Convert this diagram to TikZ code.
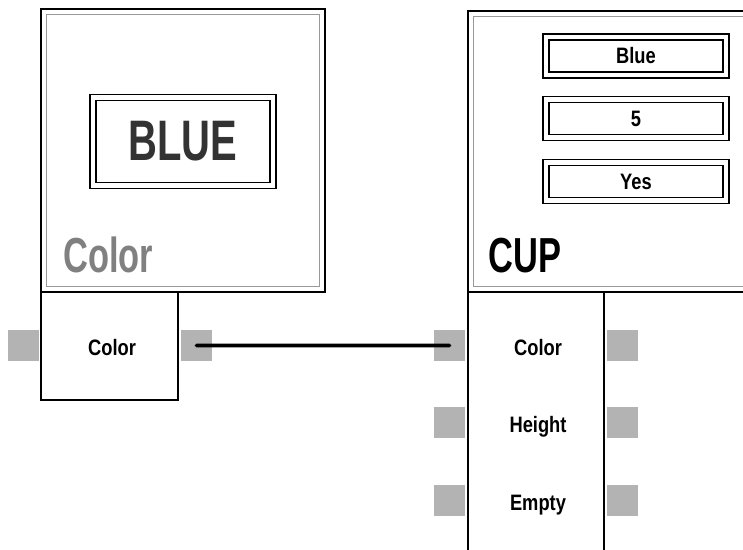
\documentclass[tikz,border=0pt]{standalone}
\usepackage{fontspec}
\setmainfont{Liberation Sans}[FakeStretch=0.82]
\newfontfamily\narrowfont{Liberation Sans}[FakeStretch=0.70]
\usetikzlibrary{positioning,calc}
\definecolor{framegray}{HTML}{999999}
\definecolor{pluggray}{HTML}{B3B3B3}
\definecolor{labgray}{HTML}{808080}
\definecolor{valgray}{HTML}{333333}

\begin{document}
\begin{tikzpicture}[
    every node/.style={font=\bfseries\fontsize{12.7}{15}\selectfont},
    comp/.style={draw, line width=0.8pt, inner sep=0pt},
    frame/.style={draw=framegray, line width=0.8pt},
    valbox/.style={draw, double, double distance=2.6pt, line width=0.7pt, minimum width=3.6cm, minimum height=0.76cm, inner sep=0pt},
    plug/.style={fill=pluggray, minimum size=0.62cm, inner sep=0pt},
    title/.style={anchor=base west, inner sep=0pt, font=\narrowfont\bfseries\fontsize{28}{30}\selectfont},
    wire/.style={line width=2.2pt, line cap=round}
  ]
  \clip (0,0) rectangle (14.86,11);
  % colour picker
  \node[comp, minimum width=5.68cm, minimum height=5.66cm] (picker) at (3.66, 7.99) {};
  \draw[frame] ($(picker.south west)+(0.12,0.12)$) rectangle ($(picker.north east)-(0.12,0.12)$);
  \node[valbox, minimum height=1.76cm, text=valgray, font=\narrowfont\bfseries\fontsize{32.5}{34}\selectfont] (blue) at (3.66, 8.17) {BLUE};
  \node[title, text=labgray] (pickerlab) at (1.26, 5.54) {Color};
  \node[comp, minimum width=2.74cm, minimum height=2.16cm] (pickport) at (2.19, 4.08) {};
  \node[anchor=base] (picklab) at (2.24, 3.88) {Color};
  \node[plug] (pickin) at (0.47, 4.09) {};
  \node[plug] (pickout) at (3.93, 4.09) {};
  % cup
  \node[comp, minimum width=6.64cm, minimum height=5.62cm] (cup) at (12.68, 7.97) {};
  \draw[frame] ($(cup.south west)+(0.12,0.12)$) rectangle ($(cup.north east)-(0.12,0.12)$);
  \node[valbox] (fblue) at (12.72, 9.88) {Blue};
  \node[valbox, below=0.47cm of fblue] (ffive) {5};
  \node[valbox, below=0.47cm of ffive] (fyes) {Yes};
  \node[title] (cuplab) at (9.76, 5.54) {CUP};
  \node[comp, minimum width=2.72cm, minimum height=5.5cm] (cupport) at (10.72, 2.41) {};
  \foreach \y/\nm/\txt in {3.88/clr/Color, 2.34/hgt/Height, 0.78/emp/Empty} {
    \node[anchor=base] (cup\nm) at (10.76, \y) {\txt};
    \node[plug] (in\nm) at (8.99, \y+0.21) {};
    \node[plug] (out\nm) at (12.45, \y+0.21) {};
  }
  \draw[wire] (pickout.center) -- (inclr.center);
\end{tikzpicture}
\end{document}
